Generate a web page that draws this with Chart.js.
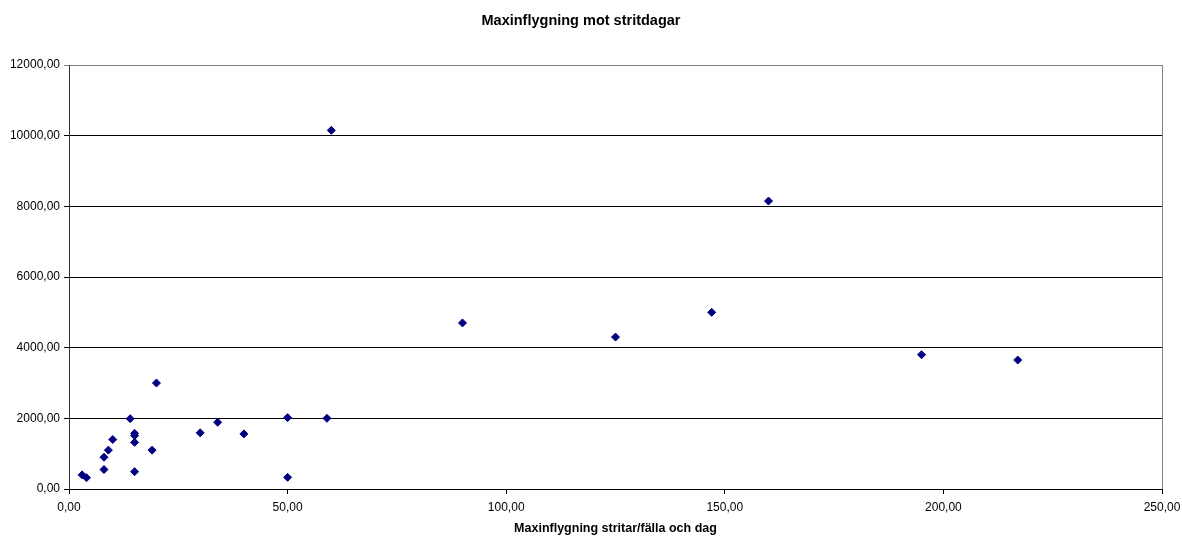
<!DOCTYPE html>
<html>
<head>
<meta charset="utf-8">
<title>Maxinflygning mot stritdagar</title>
<script src="https://cdn.jsdelivr.net/npm/chart.js@4/dist/chart.umd.min.js"></script>
<style>
  html, body { margin: 0; padding: 0; background: #fff; }
  #wrap { width: 1182px; height: 538px; }
</style>
</head>
<body>
<div id="wrap"><canvas id="chart" width="1182" height="538"></canvas></div>
<script>
// Maxinflygning (stritar/fälla och dag) mot stritdagar
const chartTitle = 'Maxinflygning mot stritdagar';
const xTitle = 'Maxinflygning stritar/fälla och dag';

const maxFlight = [3, 4, 8, 8, 9, 10, 14, 15, 15, 15, 15, 19, 20, 30, 34, 40, 50, 50, 59, 60, 90, 125, 147, 160, 195, 217];
const stritDays = [400, 320, 550, 900, 1100, 1400, 1990, 1575, 1510, 1320, 490, 1100, 3000, 1590, 1890, 1560, 2020, 330, 2000, 10150, 4700, 4300, 5000, 8150, 3800, 3650];

const xMin = 0, xMax = 250, xStep = 50;
const yMin = 0, yMax = 12000, yStep = 2000;

const fontFamily = '"Liberation Sans", Arial, sans-serif';

function fmt(v) {
    return v.toFixed(2).replace('.', ',');
}

// gray right edge of the plot area, like the old Excel frame
const frameRight = {
    id: 'frameRight',
    afterDraw(chart) {
        const { ctx, chartArea } = chart;
        const x = Math.round(chartArea.right) + 0.5;
        ctx.save();
        ctx.strokeStyle = '#808080';
        ctx.lineWidth = 1;
        ctx.beginPath();
        ctx.moveTo(x, chartArea.top);
        ctx.lineTo(x, chartArea.bottom);
        ctx.stroke();
        ctx.restore();
    }
};

const ctx = document.getElementById('chart').getContext('2d');

new Chart(ctx, {
    type: 'scatter',
    data: {
        datasets: [{
            label: 'Stritdagar',
            data: maxFlight.map((x, i) => ({ x: x, y: stritDays[i] })),
            pointStyle: 'rectRot',
            pointRadius: 4,
            pointBorderWidth: 1,
            backgroundColor: '#000080',
            borderColor: '#000080'
        }]
    },
    options: {
        responsive: false,
        animation: false,
        layout: {
            padding: { top: 0, right: 20, bottom: 0, left: 0 }
        },
        plugins: {
            legend: { display: false },
            tooltip: { enabled: false },
            title: {
                display: true,
                text: chartTitle,
                color: '#000',
                font: { family: fontFamily, size: 14.5, weight: 'bold' },
                padding: { top: 12.5, bottom: 35.1 }
            }
        },
        scales: {
            x: {
                type: 'linear',
                min: xMin,
                max: xMax,
                afterFit: scale => {
                    scale.height = 49;
                    scale.paddingLeft = 0;
                    scale.paddingRight = 0;
                },
                ticks: {
                    stepSize: xStep,
                    color: '#000',
                    padding: 6,
                    maxRotation: 0,
                    font: { family: fontFamily, size: 12 },
                    callback: v => fmt(v)
                },
                grid: {
                    drawOnChartArea: false,
                    drawTicks: true,
                    tickLength: 5,
                    color: '#000'
                },
                border: { color: '#000', width: 1 },
                title: {
                    display: true,
                    text: xTitle,
                    color: '#000',
                    font: { family: fontFamily, size: 12.5, weight: 'bold' },
                    padding: { top: 0, bottom: 2 }
                }
            },
            y: {
                type: 'linear',
                min: yMin,
                max: yMax,
                afterFit: scale => { scale.width = 69; },
                ticks: {
                    stepSize: yStep,
                    color: '#000',
                    padding: 4,
                    font: { family: fontFamily, size: 12 },
                    callback: v => fmt(v)
                },
                grid: {
                    tickLength: 5,
                    color: c => (c.tick && c.tick.value === yMax) ? '#808080' : '#000'
                },
                border: { color: '#333', width: 1 }
            }
        }
    },
    plugins: [frameRight]
});
</script>
</body>
</html>
